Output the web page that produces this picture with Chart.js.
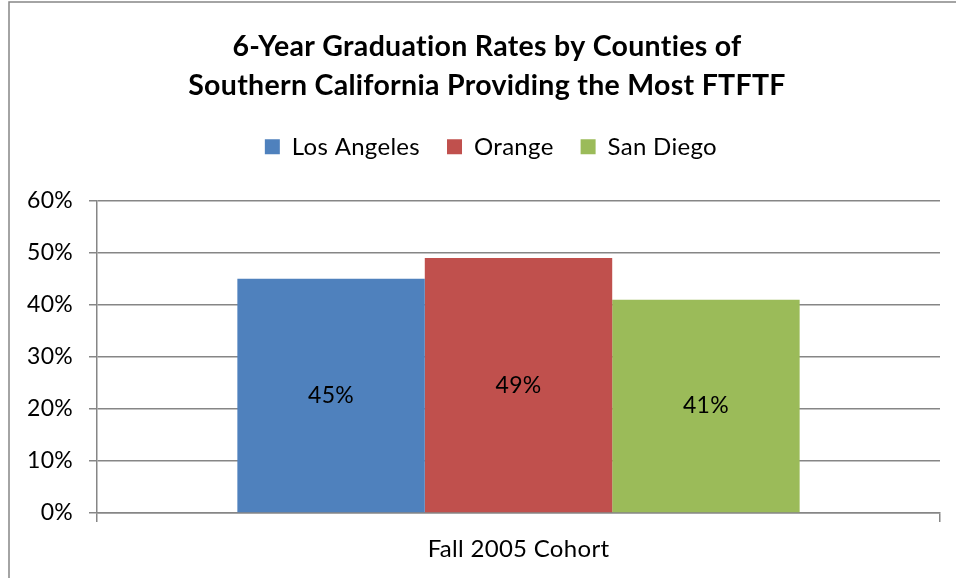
<!DOCTYPE html>
<html>
<head>
<meta charset="utf-8">
<script src="https://cdn.jsdelivr.net/npm/chart.js@4.4.0/dist/chart.umd.min.js"></script>
<style>
  html, body { margin: 0; padding: 0; background: #fff; }
  #wrap { position: relative; width: 956px; height: 578px; }
  canvas { display: block; }
</style>
</head>
<body>
<div id="wrap"><canvas id="c" width="956" height="578"></canvas></div>
<script>
const categories = ["Fall 2005 Cohort"];
const seriesNames = ["Los Angeles", "Orange", "San Diego"];
const losAngeles = [0.45];
const orange = [0.49];
const sanDiego = [0.41];
const seriesColors = ["#4F81BD", "#C0504D", "#9BBB59"];
const yTicks = [0, 0.1, 0.2, 0.3, 0.4, 0.5, 0.6];
const titleLines = ["6-Year Graduation Rates by Counties of", "Southern California Providing the Most FTFTF"];

const FONT = "Lato";

const frame = {
  id: "frame",
  beforeDraw(chart) {
    const ctx = chart.ctx;
    ctx.fillStyle = "#fff";
    ctx.fillRect(0, 0, chart.width, chart.height);
    ctx.strokeStyle = "#868686";
    ctx.lineWidth = 1.5;
    ctx.beginPath();
    ctx.moveTo(9, chart.height);
    ctx.lineTo(9, 2);
    ctx.lineTo(chart.width, 2);
    ctx.stroke();
    if ("letterSpacing" in ctx) ctx.letterSpacing = "0.3px";
  }
};

const barLabels = {
  id: "barLabels",
  afterDatasetsDraw(chart) {
    const ctx = chart.ctx;
    ctx.save();
    ctx.font = "23px " + FONT;
    ctx.fillStyle = "#000";
    ctx.textAlign = "center";
    ctx.textBaseline = "middle";
    chart.data.datasets.forEach((ds, i) => {
      chart.getDatasetMeta(i).data.forEach((el, j) => {
        const v = ds.data[j];
        ctx.fillText(Math.round(v * 100) + "%", el.x, (el.y + el.base) / 2);
      });
    });
    ctx.restore();
  }
};

const data = {
  labels: categories,
  datasets: [losAngeles, orange, sanDiego].map((vals, i) => ({
    label: seriesNames[i],
    data: vals,
    backgroundColor: seriesColors[i],
    borderWidth: 0,
    categoryPercentage: 0.667,
    barPercentage: 1.0
  }))
};

new Chart(document.getElementById("c"), {
  type: "bar",
  data,
  plugins: [frame, barLabels],
  options: {
    responsive: false,
    animation: false,
    devicePixelRatio: 1,
    layout: { padding: { left: 22, right: 4, top: 0, bottom: 0 } },
    plugins: {
      title: {
        display: true,
        text: titleLines,
        color: "#000",
        font: { family: FONT, size: 28.5, weight: "bold", lineHeight: 1.365 },
        padding: { top: 27, bottom: 3 }
      },
      subtitle: {
        display: true,
        text: [""],
        weight: 500,
        font: { size: 1, lineHeight: 1 },
        padding: { top: 31, bottom: 0 }
      },
      legend: {
        display: true,
        labels: {
          color: "#000",
          font: { family: FONT, size: 24 },
          boxWidth: 15,
          boxHeight: 15,
          padding: 27
        }
      },
      tooltip: { enabled: false }
    },
    scales: {
      x: {
        offset: true,
        grid: { display: true, drawOnChartArea: false, drawTicks: true, tickLength: 9, color: "#868686", lineWidth: 1.5, offset: true },
        border: { display: true, color: "#868686", width: 1.5 },
        ticks: { color: "#000", font: { family: FONT, size: 24 }, padding: 13 },
        afterFit(s) { s.height = 65; }
      },
      y: {
        min: 0,
        max: 0.6,
        afterBuildTicks(s) { s.ticks = yTicks.map(v => ({ value: v })); },
        grid: { color: "#868686", lineWidth: 1.5, tickLength: 8 },
        border: { display: true, color: "#868686", width: 1.5 },
        ticks: {
          color: "#000",
          font: { family: FONT, size: 23 },
          padding: 16,
          callback: v => Math.round(v * 100) + "%"
        },
        afterFit(s) { s.width = 75; }
      },
      yRight: {
        position: "right",
        display: true,
        grid: { display: false },
        border: { display: false },
        ticks: { display: false },
        afterFit(s) { s.width = 12; }
      }
    }
  }
});
</script>
</body>
</html>
